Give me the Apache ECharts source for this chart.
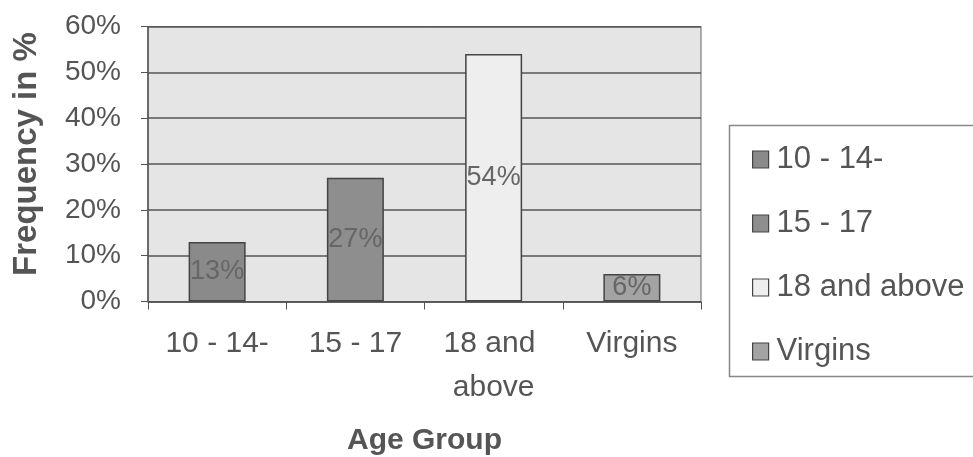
<!DOCTYPE html>
<html><head><meta charset="utf-8">
<script src="https://cdn.jsdelivr.net/npm/echarts@6/dist/echarts.min.js"></script>
<style>html,body{margin:0;padding:0;background:#fff}#c{width:973px;height:457px}</style>
</head><body><div id="c"></div>
<script>
const categories = ['10 - 14-', '15 - 17', '18 and above', 'Virgins'];
const values = [13, 27, 54, 6];
const yTicks = [0, 10, 20, 30, 40, 50, 60];
const seriesColors = ['#8a8a8a', '#8e8e8e', '#eeeeee', '#a3a3a3'];

const FONT = 'Liberation Sans, Arial, sans-serif';
const chart = echarts.init(document.getElementById('c'));
const series = categories.map((name, i) => ({
  name: name,
  type: 'bar',
  stack: 'all',
  barWidth: 57,
  data: categories.map((c, j) => j === i ? values[i] : null),
  itemStyle: { color: seriesColors[i], borderColor: '#444', borderWidth: 1.5 },
  label: {
    show: true, position: 'inside', formatter: '{c}%',
    fontFamily: FONT, fontSize: 27, color: '#666'
  }
}));
chart.setOption({
  animation: false,
  grid: { left: 148, right: 272, top: 26.5, bottom: 155.5, outerBoundsMode: 'none', containLabel: false,
    show: true, backgroundColor: '#e5e5e5', borderColor: '#666', borderWidth: 1 },
  legend: {
    orient: 'vertical', left: 747, top: 139,
    itemWidth: 16, itemHeight: 17, itemGap: 33,
    icon: 'rect',
    itemStyle: { borderColor: '#444', borderWidth: 1.2 },
    textStyle: { fontFamily: FONT, fontSize: 31, color: '#555', padding: [0, 0, 0, 3] },
    data: categories
  },
  graphic: [{
    type: 'rect', left: 727, top: 123, shape: { width: 260, height: 251 },
    style: { fill: 'none', stroke: '#888', lineWidth: 1.5 }
  }],
  xAxis: {
    type: 'category', data: categories,
    name: 'Age Group', nameLocation: 'middle', nameGap: 124,
    nameTextStyle: { fontFamily: FONT, fontSize: 30, fontWeight: 'bold', color: '#555' },
    axisLine: { lineStyle: { color: '#555', width: 1.5 } },
    axisTick: { show: true, length: 8, lineStyle: { color: '#555' } },
    axisLabel: { fontFamily: FONT, fontSize: 30, color: '#555', margin: 20, lineHeight: 44, width: 132, overflow: 'break', interval: 0 }
  },
  yAxis: {
    type: 'value', min: 0, max: 60, interval: 10,
    name: 'Frequency in %', nameLocation: 'middle', nameGap: 105,
    nameTextStyle: { fontFamily: FONT, fontSize: 33, fontWeight: 'bold', color: '#555', padding: [0, 0, 0, 20] },
    axisLine: { show: true, lineStyle: { color: '#555', width: 1.5 } },
    axisTick: { show: true, length: 7, lineStyle: { color: '#555' } },
    splitLine: { lineStyle: { color: '#555', width: 1.5 } },
    axisLabel: { fontFamily: FONT, fontSize: 28, color: '#555', margin: 27,
      formatter: v => yTicks.includes(v) ? v + '%' : '' }
  },
  series: series
});
</script></body></html>
